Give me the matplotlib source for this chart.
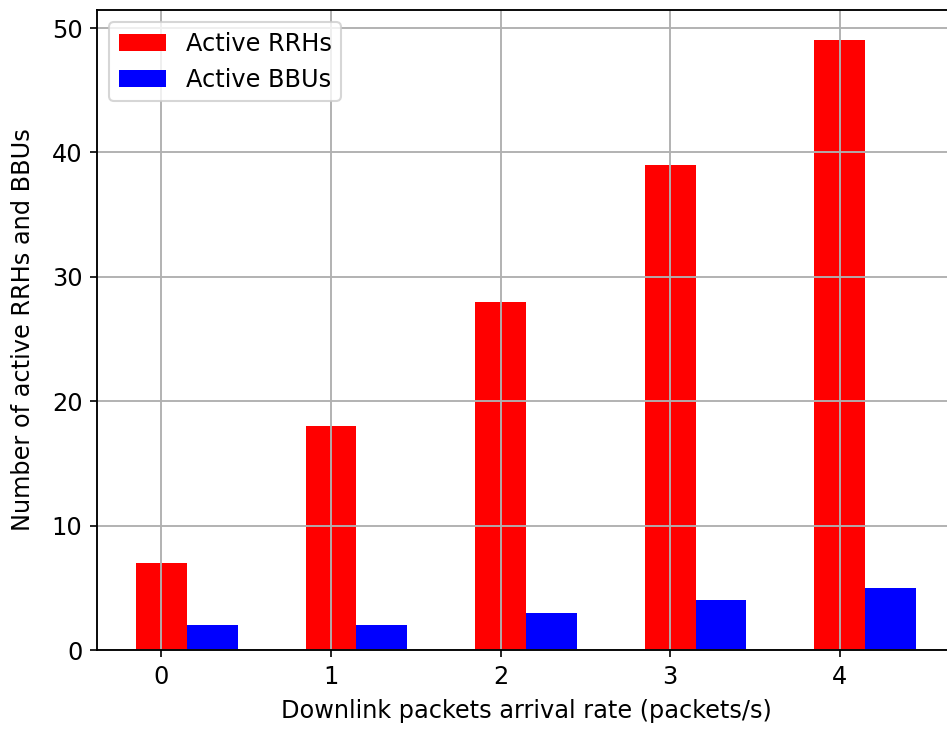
import matplotlib
matplotlib.use("Agg")
import matplotlib.pyplot as plt
import numpy as np

rates = [0, 1, 2, 3, 4]
active_rrhs = [7, 18, 28, 39, 49]
active_bbus = [2, 2, 3, 4, 5]
width = 0.3

plt.rcParams["font.size"] = 11.5
plt.rcParams["axes.linewidth"] = 0.9
plt.rcParams["grid.linewidth"] = 0.9

fig = plt.figure(figsize=(947 / 150, 729 / 150), dpi=150)
ax = fig.add_axes([97 / 947, 79 / 729, 858 / 947, 640 / 729])

x = np.arange(len(rates))
ax.bar(x, active_rrhs, width, color="red", label="Active RRHs")
ax.bar(x + width, active_bbus, width, color="blue", label="Active BBUs")

ax.set_xticks(x)
ax.set_xticklabels([str(r) for r in rates])
ax.set_xlabel("Downlink packets arrival rate (packets/s)", labelpad=5)
ax.set_ylabel("Number of active RRHs and BBUs", labelpad=8)
ax.grid(True)
ax.legend(loc="upper left")

fig.savefig("out.png", dpi=150)
